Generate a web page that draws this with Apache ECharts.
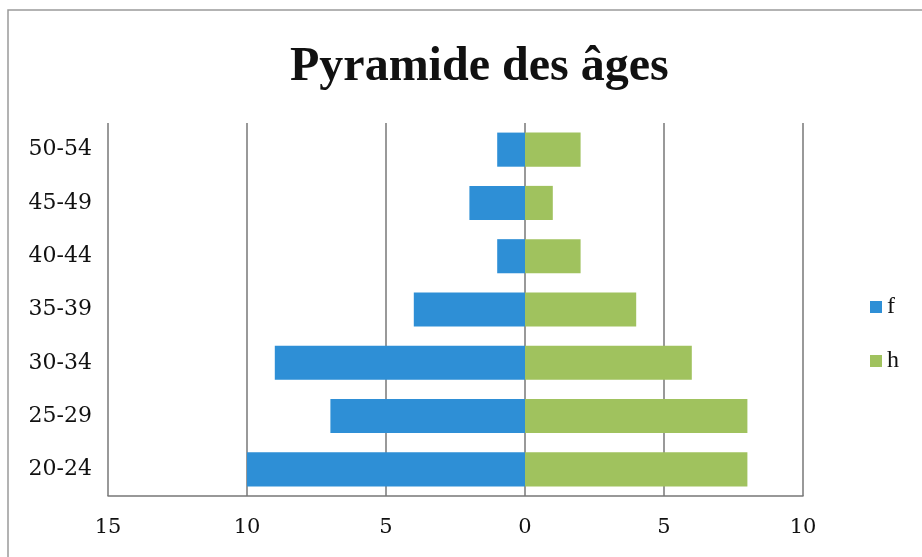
<!DOCTYPE html>
<html>
<head>
<meta charset="utf-8">
<script src="https://cdn.jsdelivr.net/npm/echarts@6/dist/echarts.min.js"></script>
<style>html,body{margin:0;padding:0;background:#fff}#c{width:922px;height:557px}</style>
</head>
<body>
<div id="c"></div>
<script>
const categories = ['20-24', '25-29', '30-34', '35-39', '40-44', '45-49', '50-54'];
const femmes = [-10, -7, -9, -4, -1, -2, -1];
const hommes = [8, 8, 6, 4, 2, 1, 2];
const seriesNames = ['f', 'h'];
const xMin = -15, xMax = 10, xStep = 5;

const chart = echarts.init(document.getElementById('c'), null, {renderer: 'canvas'});
const titleFont = '"Liberation Serif", serif';
const labelFont = '"DejaVu Serif", serif';
chart.setOption({
  backgroundColor: '#ffffff',
  animation: false,
  title: {
    text: 'Pyramide des âges',
    left: 285, top: 39,
    textStyle: {fontFamily: titleFont, fontWeight: 'bold', fontSize: 48, color: '#111'}
  },
  graphic: [{
    type: 'rect', shape: {x: 8, y: 10, width: 940, height: 600},
    style: {fill: 'none', stroke: '#9a9a9a', lineWidth: 1.5}, silent: true
  }],
  legend: {
    orient: 'vertical', left: 865, top: 290, itemGap: 30,
    itemWidth: 12, itemHeight: 12, icon: 'rect',
    textStyle: {fontFamily: titleFont, fontSize: 24, color: '#111'},
    data: seriesNames
  },
  grid: {left: 108, right: 119, top: 123, bottom: 61, containLabel: false},
  xAxis: {
    type: 'value', min: xMin, max: xMax, interval: xStep,
    axisLine: {show: true, lineStyle: {color: '#777', width: 1.5}},
    axisTick: {show: false},
    splitLine: {show: true, lineStyle: {color: '#777', width: 1.5}},
    axisLabel: {
      margin: 21, fontFamily: labelFont, fontSize: 21, color: '#111',
      formatter: v => String(Math.abs(v))
    }
  },
  yAxis: {
    type: 'category', data: categories,
    axisLine: {show: false}, axisTick: {show: false},
    axisLabel: {margin: 16, fontFamily: labelFont, fontSize: 22, color: '#111'}
  },
  series: [
    {name: seriesNames[0], type: 'bar', data: femmes, barWidth: '64%', barGap: '-100%',
     itemStyle: {color: '#2e8fd6'}},
    {name: seriesNames[1], type: 'bar', data: hommes, barWidth: '64%',
     itemStyle: {color: '#a0c25e'}}
  ]
});
</script>
</body>
</html>
